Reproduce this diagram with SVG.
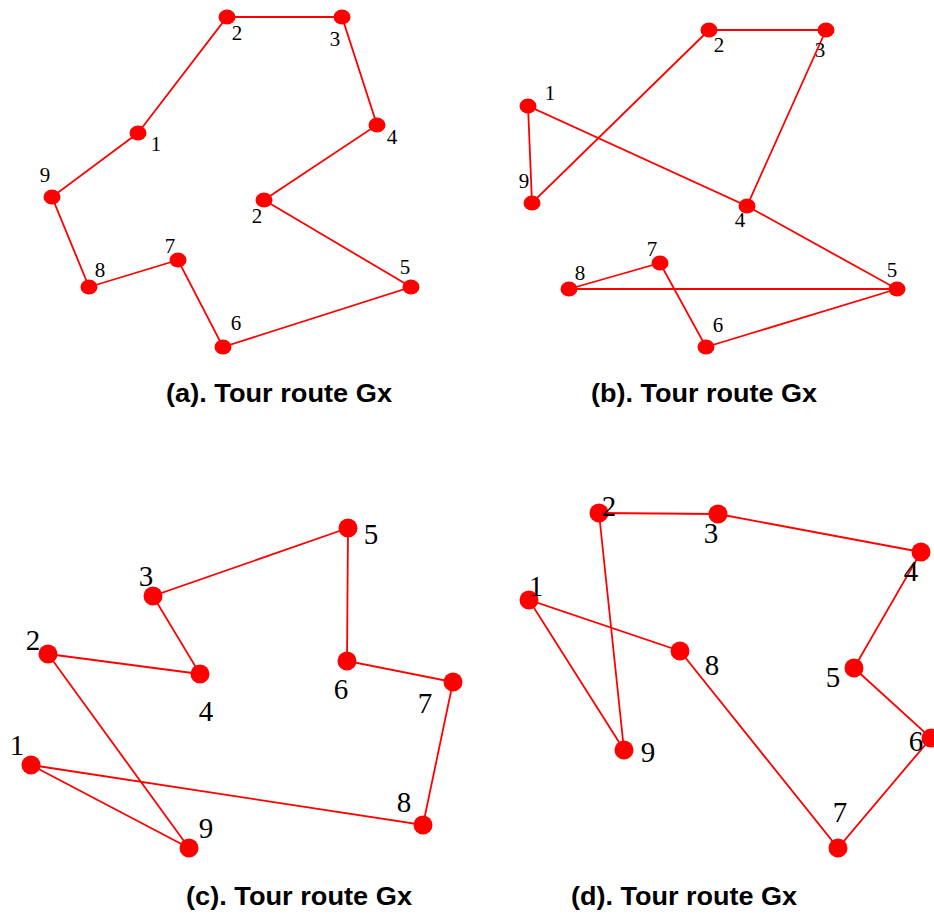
<svg xmlns="http://www.w3.org/2000/svg" width="934" height="915" viewBox="0 0 934 915">
<style>
.e{stroke:#ff0000;stroke-width:1.8;fill:none}
.n{fill:#ff0000}
.s{font-family:"Liberation Serif","Times New Roman",serif;font-size:21px;fill:#000;text-anchor:middle}
.l{font-family:"Liberation Serif","Times New Roman",serif;font-size:29px;fill:#000;text-anchor:middle}
.c{font-family:"Liberation Sans",Arial,sans-serif;font-size:25px;font-weight:bold;fill:#000;text-anchor:middle}
</style>
<rect width="934" height="915" fill="#fff"/>
<g id="connectors">
<polyline class="e" points="138,133 227,17 342,17 377,125 264,200 411,287 223,347 178,260 89,287 52,197 138,133"/>
<polyline class="e" points="709,30 826,30 747,206 528,106 532,203 709,30"/>
<polyline class="e" points="747,206 897,289 569,289 660,263 706,347 897,289"/>
<polyline class="e" points="348,528 153,596 200,674 48,654 189,848 31,765 423,825 453,682 347,661 348,528"/>
<polyline class="e" points="599,513 718,514 921,552 854,668 931,738 838,848 680,651 529,600 624,750 599,513"/>
</g>
<g id="panel-a">
<g id="a1"><ellipse class="n" cx="138" cy="133" rx="8.5" ry="7.5"/><text class="s" x="156" y="151">1</text></g>
<g id="a2"><ellipse class="n" cx="227" cy="17" rx="8.5" ry="7.5"/><text class="s" x="237" y="40">2</text></g>
<g id="a3"><ellipse class="n" cx="342" cy="17" rx="8.5" ry="7.5"/><text class="s" x="335" y="46">3</text></g>
<g id="a4"><ellipse class="n" cx="377" cy="125" rx="8.5" ry="7.5"/><text class="s" x="392" y="144">4</text></g>
<g id="a2b"><ellipse class="n" cx="264" cy="200" rx="8.5" ry="7.5"/><text class="s" x="257" y="223">2</text></g>
<g id="a5"><ellipse class="n" cx="411" cy="287" rx="8.5" ry="7.5"/><text class="s" x="405" y="274">5</text></g>
<g id="a6"><ellipse class="n" cx="223" cy="347" rx="8.5" ry="7.5"/><text class="s" x="236" y="330">6</text></g>
<g id="a7"><ellipse class="n" cx="178" cy="260" rx="8.5" ry="7.5"/><text class="s" x="170" y="253">7</text></g>
<g id="a8"><ellipse class="n" cx="89" cy="287" rx="8.5" ry="7.5"/><text class="s" x="100" y="277">8</text></g>
<g id="a9"><ellipse class="n" cx="52" cy="197" rx="8.5" ry="7.5"/><text class="s" x="45" y="182">9</text></g>
<text id="cap-a" class="c" x="279" y="402" textLength="226" lengthAdjust="spacingAndGlyphs">(a). Tour route Gx</text>
</g>
<g id="panel-b">
<g id="b1"><ellipse class="n" cx="528" cy="106" rx="8.5" ry="7.5"/><text class="s" x="550" y="100">1</text></g>
<g id="b2"><ellipse class="n" cx="709" cy="30" rx="8.5" ry="7.5"/><text class="s" x="719" y="52">2</text></g>
<g id="b3"><ellipse class="n" cx="826" cy="30" rx="8.5" ry="7.5"/><text class="s" x="820" y="57">3</text></g>
<g id="b4"><ellipse class="n" cx="747" cy="206" rx="8.5" ry="7.5"/><text class="s" x="740" y="227">4</text></g>
<g id="b5"><ellipse class="n" cx="897" cy="289" rx="8.5" ry="7.5"/><text class="s" x="892" y="277">5</text></g>
<g id="b6"><ellipse class="n" cx="706" cy="347" rx="8.5" ry="7.5"/><text class="s" x="718" y="332">6</text></g>
<g id="b7"><ellipse class="n" cx="660" cy="263" rx="8.5" ry="7.5"/><text class="s" x="652" y="256">7</text></g>
<g id="b8"><ellipse class="n" cx="569" cy="289" rx="8.5" ry="7.5"/><text class="s" x="580" y="280">8</text></g>
<g id="b9"><ellipse class="n" cx="532" cy="203" rx="8.5" ry="7.5"/><text class="s" x="524" y="188">9</text></g>
<text id="cap-b" class="c" x="704" y="402" textLength="226" lengthAdjust="spacingAndGlyphs">(b). Tour route Gx</text>
</g>
<g id="panel-c">
<g id="c1"><circle class="n" cx="31" cy="765" r="9.5"/><text class="l" x="17" y="755">1</text></g>
<g id="c2"><circle class="n" cx="48" cy="654" r="9.5"/><text class="l" x="33" y="650">2</text></g>
<g id="c3"><circle class="n" cx="153" cy="596" r="9.5"/><text class="l" x="146" y="586">3</text></g>
<g id="c4"><circle class="n" cx="200" cy="674" r="9.5"/><text class="l" x="206" y="721">4</text></g>
<g id="c5"><circle class="n" cx="348" cy="528" r="9.5"/><text class="l" x="371" y="544">5</text></g>
<g id="c6"><circle class="n" cx="347" cy="661" r="9.5"/><text class="l" x="341" y="699">6</text></g>
<g id="c7"><circle class="n" cx="453" cy="682" r="9.5"/><text class="l" x="425" y="713">7</text></g>
<g id="c8"><circle class="n" cx="423" cy="825" r="9.5"/><text class="l" x="404" y="812">8</text></g>
<g id="c9"><circle class="n" cx="189" cy="848" r="9.5"/><text class="l" x="206" y="838">9</text></g>
<text id="cap-c" class="c" x="299" y="905" textLength="226" lengthAdjust="spacingAndGlyphs">(c). Tour route Gx</text>
</g>
<g id="panel-d">
<g id="d1"><circle class="n" cx="529" cy="600" r="9.5"/><text class="l" x="536" y="596">1</text></g>
<g id="d2"><circle class="n" cx="599" cy="513" r="9.5"/><text class="l" x="609" y="516">2</text></g>
<g id="d3"><circle class="n" cx="718" cy="514" r="9.5"/><text class="l" x="711" y="543">3</text></g>
<g id="d4"><circle class="n" cx="921" cy="552" r="9.5"/><text class="l" x="911" y="581">4</text></g>
<g id="d5"><circle class="n" cx="854" cy="668" r="9.5"/><text class="l" x="833" y="687">5</text></g>
<g id="d6"><circle class="n" cx="931" cy="738" r="9.5"/><text class="l" x="916" y="751">6</text></g>
<g id="d7"><circle class="n" cx="838" cy="848" r="9.5"/><text class="l" x="840" y="822">7</text></g>
<g id="d8"><circle class="n" cx="680" cy="651" r="9.5"/><text class="l" x="712" y="675">8</text></g>
<g id="d9"><circle class="n" cx="624" cy="750" r="9.5"/><text class="l" x="648" y="762">9</text></g>
<text id="cap-d" class="c" x="684" y="905" textLength="226" lengthAdjust="spacingAndGlyphs">(d). Tour route Gx</text>
</g>
</svg>
